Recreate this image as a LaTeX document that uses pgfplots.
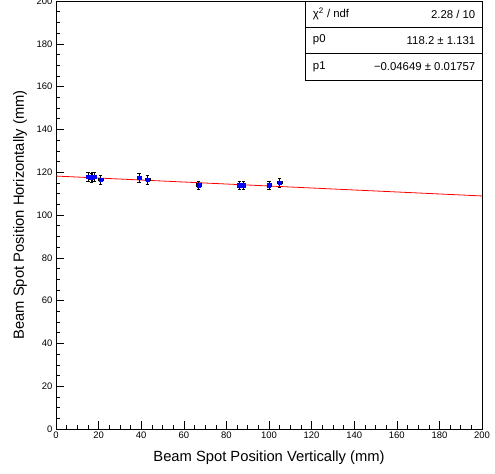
\documentclass[border=0pt]{standalone}
\usepackage{pgfplots}
\pgfplotsset{compat=1.18}
\usepackage{fontspec}
\setmainfont{Liberation Sans}
\begin{document}
\begin{tikzpicture}
\begin{axis}[
  scale only axis,
  width=426bp, height=428bp,
  xmin=0, xmax=200, ymin=0, ymax=200,
  xtick={0,20,...,200}, ytick={0,20,...,200},
  minor tick num=3,
  tick align=inside,
  major tick length=8bp, minor tick length=4bp,
  xtick pos=bottom, ytick pos=left,
  tick style={black, line width=0.5pt},
  axis line style={line width=0.6pt},
  /pgf/number format/assume math mode=true,
  ticklabel style={font=\fontsize{9.5}{10}\selectfont},
  xticklabel style={yshift=1bp},
  xlabel={Beam Spot Position Vertically (mm)},
  ylabel={Beam Spot Position Horizontally (mm)},
  label style={font=\fontsize{14.8}{16}\selectfont},
  xlabel style={yshift=-6bp},
  ylabel style={yshift=3bp},
  clip=false,
]
\addplot[red, line width=0.8pt] coordinates {(0,118.2) (200,108.90)};
\addplot[only marks, mark=square*, mark size=1.7pt, mark options={blue, draw=blue},
  error bars/.cd, x dir=both, y dir=both, x explicit, y explicit,
  error bar style={black, line width=0.5pt}, error mark options={black, rotate=90, mark size=1.6pt}]
  table[x=x, y=y, x error=ex, y error=ey] {
x y ex ey
15 118 1 2
16.5 117.5 1 2
18 118 1 2
21 116.5 1 2
39 117.5 1 2
43 116.5 1 2
67 114 1 2
86 114 1 2
88 114 1 2
100 114 1 2
105 115 1 2
17 118 1 2
};
\draw[fill=white, line width=0.6pt] (axis cs:117,163) rectangle (axis cs:200,200);
\draw[line width=0.5pt] (axis cs:117,187.8) -- (axis cs:200,187.8);
\draw[line width=0.5pt] (axis cs:117,175.6) -- (axis cs:200,175.6);
\begin{scope}[every node/.style={font=\fontsize{11.4}{12}\selectfont}]
\node[anchor=west] at (axis cs:119,193.9) {χ\textsuperscript{2} / ndf};
\node[anchor=east] at (axis cs:198.5,193.9) {2.28 / 10};
\node[anchor=west] at (axis cs:119,181.7) {p0};
\node[anchor=east] at (axis cs:198.5,181.7) {118.2 ± 1.131};
\node[anchor=west] at (axis cs:119,169.4) {p1};
\node[anchor=east] at (axis cs:198.5,169.4) {−0.04649 ± 0.01757};
\end{scope}
\end{axis}
\pgfresetboundingbox
\path (-56bp,-45bp) rectangle (439bp,429bp);
\end{tikzpicture}
\end{document}
